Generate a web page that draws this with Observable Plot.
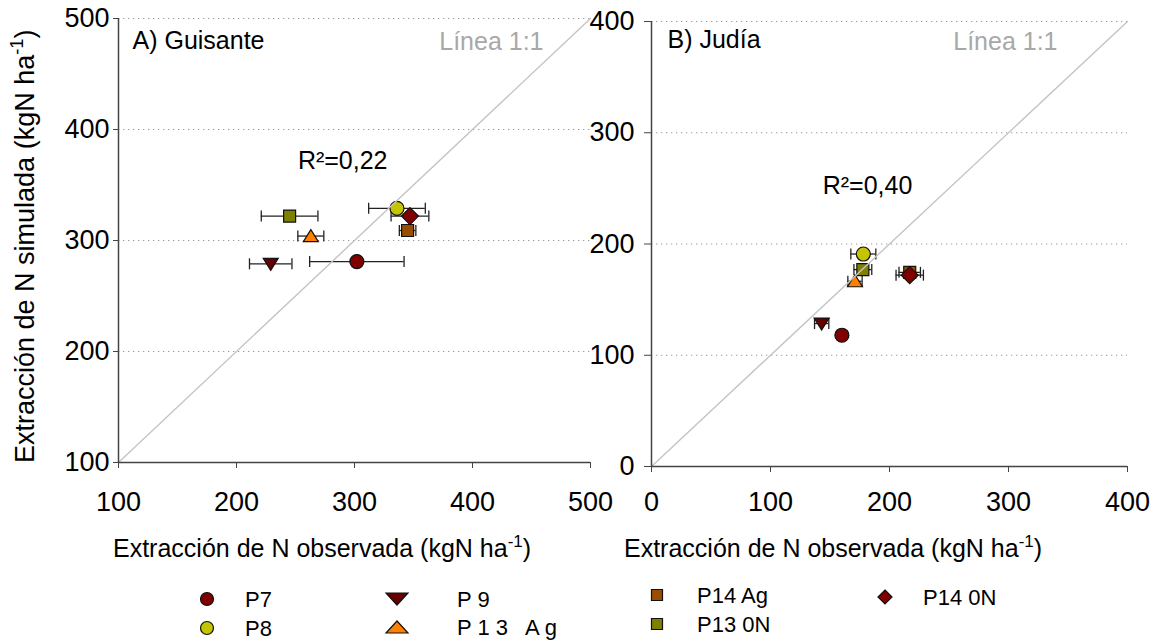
<!DOCTYPE html>
<html>
<head>
<meta charset="utf-8">
<script src="https://cdn.jsdelivr.net/npm/d3@7"></script>
<script src="https://cdn.jsdelivr.net/npm/@observablehq/plot@0.6"></script>
<style>
  body { margin: 0; background: #fff; font-family: "Liberation Sans", Arial, sans-serif; }
  #chart { position: relative; width: 1157px; height: 641px; overflow: hidden; background: #fff; }
  #chart svg { position: absolute; top: 0; }
</style>
</head>
<body>
<div id="chart"></div>
<script>
// Plots (series), their legend text, fill colours and marker shapes
const series = ["P7", "P8", "P9", "P13 Ag", "P14 Ag", "P13 0N", "P14 0N"];
const legendLabels = ["P7", "P8", "P 9", "P 1 3   A g", "P14 Ag", "P13 0N", "P14 0N"];
const colors = ["#800000", "#c4c400", "#660000", "#ff8000", "#9a4c00", "#808000", "#800000"];
const shapes = ["circle", "circle", "triangleDown", "triangleUp", "square", "square", "diamond"];

// A) Guisante: observed vs simulated N uptake (kgN/ha) and error (± on observed)
const guisanteObs = [302, 336, 229, 263, 345, 245, 347];
const guisanteSim = [281, 329, 279, 304, 309, 322, 322];
const guisanteErr = [40, 24, 18, 11, 7, 24, 16];

// B) Judía
const judiaObs = [160, 178, 143, 171, 217, 177.6, 217];
const judiaSim = [118, 191, 128.5, 166.5, 174.5, 177, 172];
const judiaErr = [0, 10.5, 6, 6, 9, 7.5, 11.5];

// Axis ticks
const guisanteTicks = [100, 200, 300, 400, 500];
const judiaTicks = [0, 100, 200, 300, 400];

// Texts
const panelTitles = ["A) Guisante", "B) Judía"];
const r2Labels = ["R²=0,22", "R²=0,40"];
const lineLabel = "Línea 1:1";
const yTitle = "Extracción de N simulada (kgN ha";
const xTitle = "Extracción de N observada (kgN ha";
const unitExp = "-1";

// Marker shapes (d3-symbol compatible objects)
const symbolDefs = {
  circle: {draw(c) { c.moveTo(7, 0); c.arc(0, 0, 7, 0, 2 * Math.PI); }},
  square: {draw(c) { c.rect(-6, -6, 12, 12); }},
  diamond: {draw(c) { c.moveTo(0, -8.5); c.lineTo(8.5, 0); c.lineTo(0, 8.5); c.lineTo(-8.5, 0); c.closePath(); }},
  triangleUp: {draw(c) { c.moveTo(0, -6.5); c.lineTo(7.5, 5.5); c.lineTo(-7.5, 5.5); c.closePath(); }},
  triangleDown: {draw(c) { c.moveTo(0, 6.5); c.lineTo(7.5, -5.5); c.lineTo(-7.5, -5.5); c.closePath(); }}
};
const capSymbol = {draw(c) { c.moveTo(0, -5.5); c.lineTo(0, 5.5); }};

const legendSymbols = {
  circle: {draw(c) { c.moveTo(6.5, 0); c.arc(0, 0, 6.5, 0, 2 * Math.PI); }},
  square: {draw(c) { c.rect(-5.5, -5.5, 11, 11); }},
  diamond: {draw(c) { c.moveTo(0, -7); c.lineTo(7, 0); c.lineTo(0, 7); c.lineTo(-7, 0); c.closePath(); }},
  triangleUp: {draw(c) { c.moveTo(0, -6); c.lineTo(11, 6); c.lineTo(-11, 6); c.closePath(); }},
  triangleDown: {draw(c) { c.moveTo(0, 6); c.lineTo(11, -6); c.lineTo(-11, -6); c.closePath(); }}
};

const font = "Liberation Sans, Arial, sans-serif";

function panel(cfg) {
  const rows = series.map((s, i) => ({series: s, obs: cfg.obs[i], sim: cfg.sim[i], err: cfg.err[i], i}));
  const withErr = rows.filter(d => d.err > 0);
  const domain = d3.extent(cfg.ticks);
  const diag = domain.map(v => ({v}));
  const barStyle = {stroke: "#222", strokeWidth: 1.3};
  return Plot.plot({
    width: cfg.width,
    height: cfg.height,
    marginLeft: cfg.marginLeft,
    marginRight: cfg.marginRight,
    marginTop: cfg.marginTop,
    marginBottom: cfg.marginBottom,
    style: {background: "transparent", overflow: "visible", fontFamily: font, color: "black"},
    x: {domain, ticks: cfg.ticks},
    y: {domain, ticks: cfg.ticks},
    marks: [
      Plot.gridY(cfg.ticks.slice(1), {stroke: "#9a9a9a", strokeOpacity: 1, strokeDasharray: "1.3,3.7"}),
      Plot.ruleY(withErr, {y: "sim", x1: d => d.obs - d.err, x2: d => d.obs + d.err, ...barStyle}),
      Plot.dot(withErr, {x: d => d.obs - d.err, y: "sim", symbol: capSymbol, fill: "none", ...barStyle}),
      Plot.dot(withErr, {x: d => d.obs + d.err, y: "sim", symbol: capSymbol, fill: "none", ...barStyle}),
      ...rows.map(d => Plot.dot([d], {
        x: "obs", y: "sim", symbol: symbolDefs[shapes[d.i]],
        fill: colors[d.i], stroke: "#111", strokeWidth: 1.2
      })),
      Plot.line(diag, {x: "v", y: "v", stroke: "#c4c4c4", strokeWidth: 1.4}),
      Plot.ruleX([domain[0]], {stroke: "#444", strokeWidth: 1.5}),
      Plot.ruleY([domain[0]], {stroke: "#444", strokeWidth: 1.5}),
      Plot.axisX({ticks: cfg.ticks, tickSize: 6, tickPadding: cfg.xPad, fontSize: 27, stroke: "#444", label: null}),
      Plot.axisY({ticks: cfg.ticks, tickSize: cfg.yTick, tickPadding: cfg.yPad, fontSize: 27, stroke: "#444", label: null}),
      Plot.text([cfg.title], {frameAnchor: "top-left", textAnchor: "start", lineAnchor: "top",
        dx: cfg.titleDx, dy: cfg.titleDy, fontSize: 25, fill: "black"}),
      Plot.text([lineLabel], {frameAnchor: "top-right", textAnchor: "end", lineAnchor: "top",
        dx: cfg.lineDx, dy: cfg.lineDy, fontSize: 25, fill: "#a8a8a8"}),
      Plot.text([cfg.r2], {x: () => cfg.r2At[0], y: () => cfg.r2At[1], fontSize: 25, fill: "black"})
    ]
  });
}

const chart = document.getElementById("chart");

const left = panel({
  obs: guisanteObs, sim: guisanteSim, err: guisanteErr, ticks: guisanteTicks,
  title: panelTitles[0], r2: r2Labels[0], r2At: [290, 372],
  width: 600, height: 530, marginLeft: 118, marginRight: 10, marginTop: 18, marginBottom: 68,
  xPad: 23, yTick: 5, yPad: 4, titleDx: 14, titleDy: 13, lineDx: -47, lineDy: 14
});
left.style.left = "0px";
chart.appendChild(left);

const right = panel({
  obs: judiaObs, sim: judiaSim, err: judiaErr, ticks: judiaTicks,
  title: panelTitles[1], r2: r2Labels[1], r2At: [181.5, 252.5],
  width: 597, height: 530, marginLeft: 91, marginRight: 30, marginTop: 21, marginBottom: 64,
  xPad: 19, yTick: 7, yPad: 10, titleDx: 16, titleDy: 9, lineDx: -70, lineDy: 11
});
right.style.left = "560px";
chart.appendChild(right);

// Overlay: axis titles with superscript exponent, and the legend
const overlay = d3.select(chart).append("svg")
  .attr("width", 1157).attr("height", 641)
  .style("left", "0px")
  .attr("font-family", font);

function titleText(g, text, size) {
  const t = g.append("text").attr("font-size", size).attr("fill", "black");
  t.append("tspan").text(text);
  t.append("tspan").attr("font-size", size * 0.68).attr("dy", -size * 0.42).text(unitExp);
  t.append("tspan").attr("dy", size * 0.42).text(")");
  return t;
}

titleText(overlay, yTitle, 27)
  .attr("transform", "translate(34,463) rotate(-90)");

titleText(overlay, xTitle, 25)
  .attr("x", 113).attr("y", 557);

titleText(overlay, xTitle, 25)
  .attr("x", 624).attr("y", 557);

// Legend
const legendPos = [
  {sx: 207, sy: 599, tx: 245}, {sx: 207, sy: 628, tx: 245},
  {sx: 397, sy: 599, tx: 457}, {sx: 397, sy: 627, tx: 457},
  {sx: 657, sy: 595, tx: 697}, {sx: 657, sy: 624, tx: 697},
  {sx: 885, sy: 597, tx: 923}
];
const legend = overlay.append("g");
series.forEach((s, i) => {
  const p = legendPos[i];
  legend.append("path")
    .attr("d", d3.symbol(legendSymbols[shapes[i]])())
    .attr("transform", `translate(${p.sx},${p.sy})`)
    .attr("fill", colors[i]).attr("stroke", "#111").attr("stroke-width", 1.2);
  legend.append("text")
    .attr("x", p.tx).attr("y", p.sy).attr("dy", "0.36em")
    .attr("font-size", 22).attr("fill", "black")
    .style("white-space", "pre").attr("xml:space", "preserve")
    .text(legendLabels[i]);
});
</script>
</body>
</html>
